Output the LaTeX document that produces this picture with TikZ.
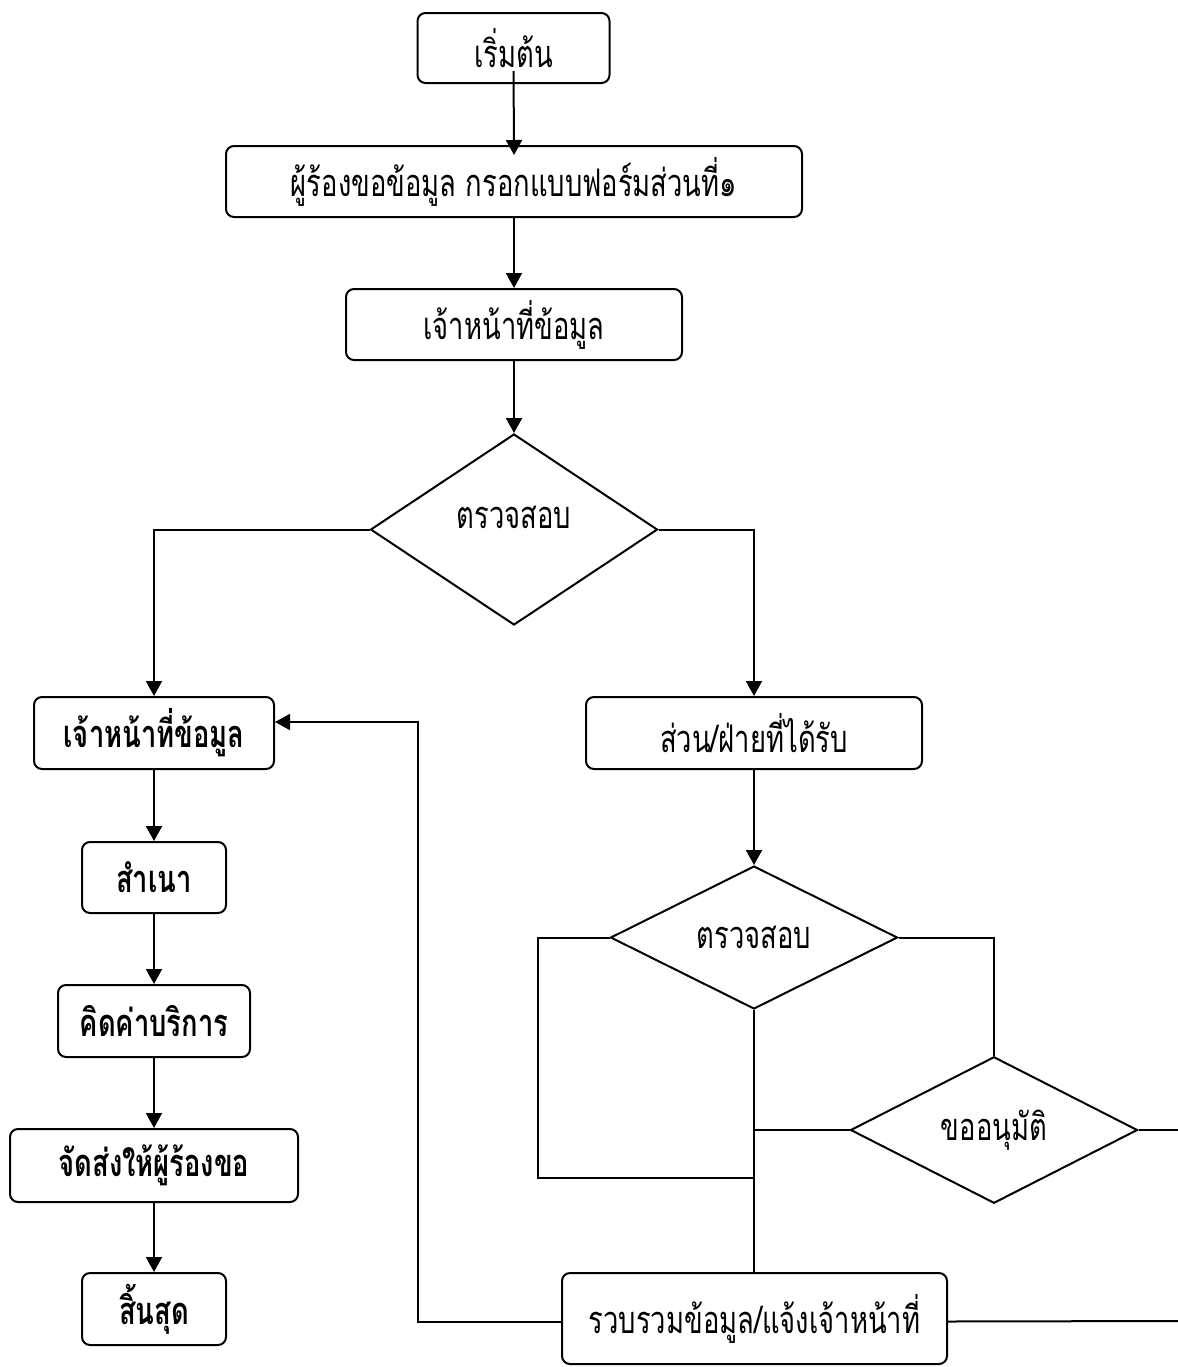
\documentclass[tikz,border=0pt]{standalone}
\usepackage{fontspec}
\newfontfamily\thaifont[Script=Thai, FakeStretch=0.72]{Loma}
\usetikzlibrary{shapes.geometric}
\usetikzlibrary{arrows.meta}

\begin{document}
\begin{tikzpicture}[x=0.5pt, y=-0.5pt,
	box/.style={draw, line width=1pt, rounded corners=4pt, inner sep=0pt, align=center,
		font=\thaifont\fontsize{19}{22}\selectfont},
	boldbox/.style={box, font=\thaifont\bfseries\fontsize{19}{22}\selectfont},
	decision/.style={draw, diamond, line width=1pt, inner sep=0pt, minimum width=143.5pt,
		font=\thaifont\fontsize{19}{22}\selectfont},
	flow/.style={line width=1pt, -{Triangle[width=8pt,length=7.5pt]}},
	link/.style={line width=1pt}]

	% Page size
	\useasboundingbox (0,0) rectangle (1178,1367);

	% Main column
	\node [box, minimum width=96pt, minimum height=35pt] (start) at (513.5,48) {เริ่มต้น};
	\node [box, minimum width=288pt, minimum height=35.5pt] (form) at (514,181.5) {ผู้ร้องขอข้อมูล กรอกแบบฟอร์มส่วนที่๑};
	\node [box, minimum width=168pt, minimum height=35.5pt] (officer) at (514,324.5) {เจ้าหน้าที่ข้อมูล};
	\node [decision, minimum height=95.5pt] (check) at (514,529.5) {};
	\node at (514,517) [font=\thaifont\fontsize{19}{22}\selectfont] (checktext) {ตรวจสอบ};

	% Left column
	\node [boldbox, minimum width=120pt, minimum height=36pt] (officerB) at (154,733) {เจ้าหน้าที่ข้อมูล};
	\node [boldbox, minimum width=72pt, minimum height=35.5pt] (copy) at (154,877.5) {สำเนา};
	\node [boldbox, minimum width=96pt, minimum height=36pt] (fee) at (154,1021) {คิดค่าบริการ};
	\node [boldbox, minimum width=144pt, minimum height=36.5pt] (send) at (154,1165.5) {จัดส่งให้ผู้ร้องขอ};
	\node [boldbox, minimum width=72pt, minimum height=36pt] (finish) at (154,1309) {สิ้นสุด};

	% Right column
	\node [box, minimum width=168pt, minimum height=36pt] (dept) at (754,733) {ส่วน/ฝ่ายที่ได้รับ};
	\node [decision, minimum height=71.5pt] (checkB) at (754,937.5) {ตรวจสอบ};
	\node [decision, minimum height=72pt] (approve) at (994,1130) {ขออนุมัติ};
	\node [box, minimum width=192.5pt, minimum height=45.5pt] (gather) at (754.5,1318.5) {รวบรวมข้อมูล/แจ้งเจ้าหน้าที่};

	% Free ends and corners
	\coordinate (loopL) at (538,1178);
	\coordinate (back) at (418,722);
	\coordinate (edgeA) at (1178,1130);
	\coordinate (edgeB) at (1178,1321);

	% Arrows down the middle
	\draw [flow, shorten >=-5pt] ([yshift=6.5pt]start.south) -- (form.north);
	\draw [flow] (form) -- (officer);
	\draw [flow] (officer) -- (check.north);
	\draw [flow] (check.west) -| (officerB.north);
	\draw [flow] (check.east) -| (dept.north);
	\draw [flow] (dept) -- (checkB.north);

	% Left column arrows
	\draw [flow] (officerB) -- (copy);
	\draw [flow] (copy) -- (fee);
	\draw [flow] (fee) -- (send);
	\draw [flow] (send) -- (finish);

	% Plain lines on the right
	\draw [link] (checkB.west) -| (loopL) -- (loopL -| checkB.south);
	\draw [link] (checkB.south) -- (gather.north -| checkB.south);
	\draw [link] (checkB.east) -| (approve.north);
	\draw [link] (approve.west) -- (approve.west -| checkB.south);
	\draw [link] (approve.east) -- (edgeA);
	\draw [link] ([yshift=-1.5pt]gather.east) -- (edgeB);

	% Back to the officer
	\draw [flow] ([yshift=-1.5pt]gather.west) -| (back) -- (back -| officerB.east);

\end{tikzpicture}
\end{document}
